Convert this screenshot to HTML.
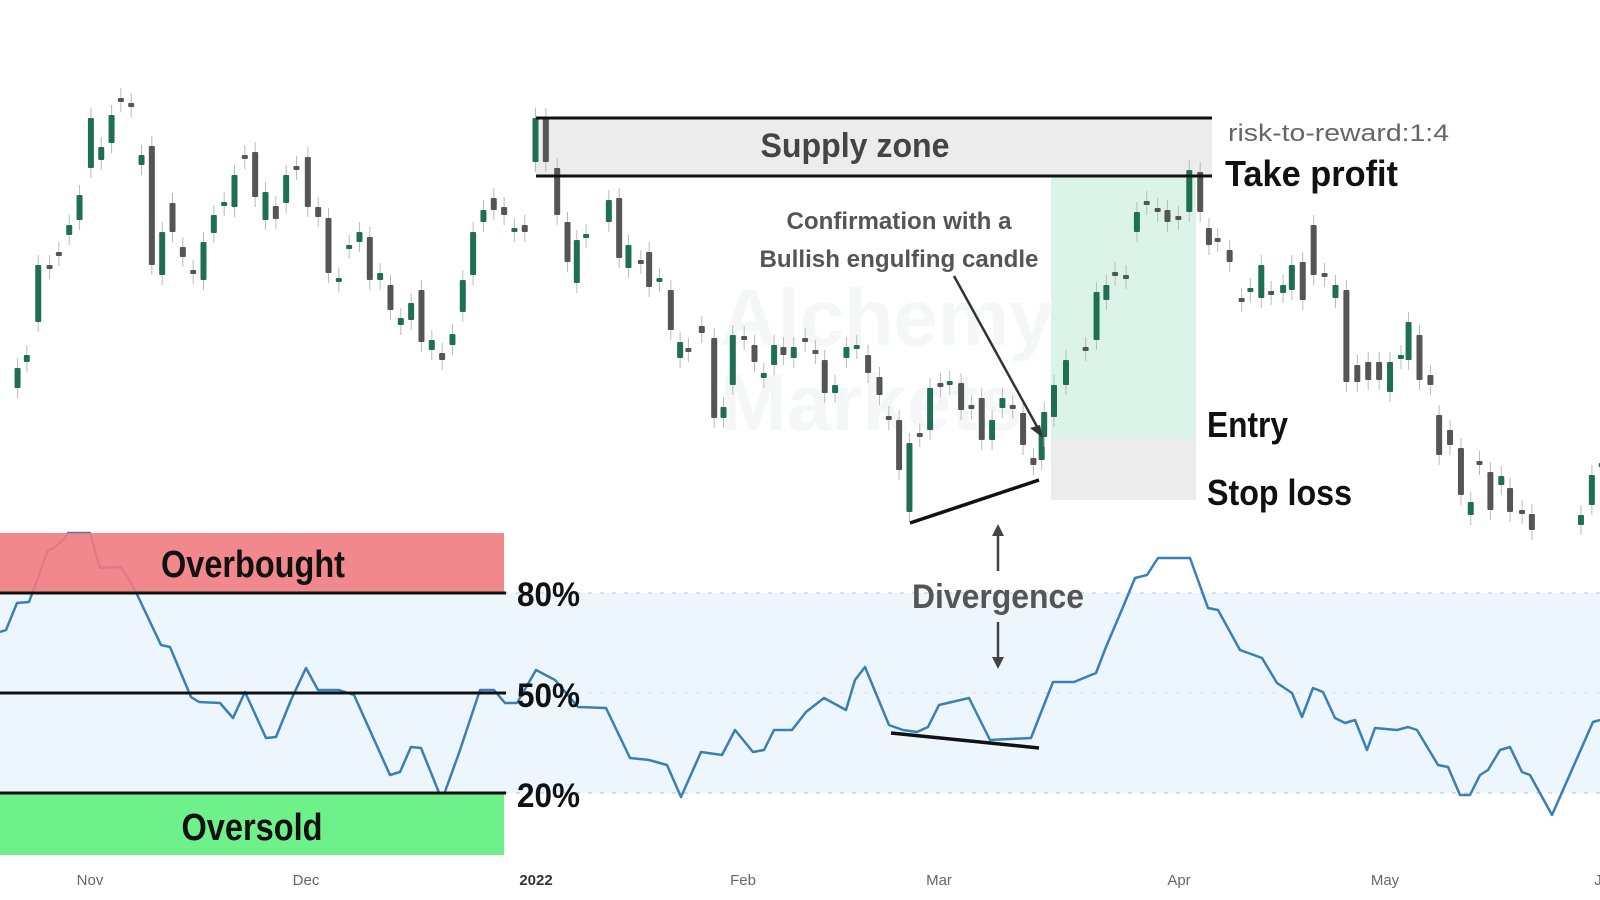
<!DOCTYPE html>
<html><head><meta charset="utf-8"><style>
html,body{margin:0;padding:0;background:#fff;width:1600px;height:900px;overflow:hidden}
svg{display:block}
text{font-family:"Liberation Sans",sans-serif}
</style></head><body>
<svg id="s" width="1600" height="900" viewBox="0 0 1600 900" xmlns="http://www.w3.org/2000/svg">
<rect width="1600" height="900" fill="#fff"/>
<rect x="0" y="593" width="1600" height="200" fill="#eef6fd"/>
<line x1="504" y1="593" x2="1600" y2="593" stroke="#cfd6dc" stroke-width="1.5" stroke-dasharray="4,8"/>
<line x1="504" y1="693" x2="1600" y2="693" stroke="#e0e6ea" stroke-width="1.5" stroke-dasharray="4,8"/>
<line x1="504" y1="793" x2="1600" y2="793" stroke="#cfd6dc" stroke-width="1.5" stroke-dasharray="4,8"/>
<rect x="536" y="118" width="676" height="58" fill="#ececec"/>
<rect x="1051" y="176" width="145" height="263" fill="#dcf3ea"/>
<rect x="1051" y="439" width="145" height="61" fill="#ececec"/>
<text x="720" y="345" font-size="80" fill="#f5f6f8" font-weight="bold">Alchemy</text>
<text x="720" y="430" font-size="80" fill="#f5f6f8" font-weight="bold">Markets</text>
<g id="candles"></g>
<line x1="536" y1="118" x2="1212" y2="118" stroke="#111" stroke-width="3"/>
<line x1="536" y1="176" x2="1212" y2="176" stroke="#111" stroke-width="3"/>
<text x="855" y="157" font-size="34" font-weight="bold" fill="#444" text-anchor="middle" textLength="189" lengthAdjust="spacingAndGlyphs">Supply zone</text>
<text x="1228" y="141" font-size="24" fill="#666" textLength="221" lengthAdjust="spacingAndGlyphs">risk-to-reward:1:4</text>
<text x="1225" y="186" font-size="36" font-weight="bold" fill="#111" textLength="173" lengthAdjust="spacingAndGlyphs">Take profit</text>
<text x="1207" y="437" font-size="36" font-weight="bold" fill="#111" textLength="81" lengthAdjust="spacingAndGlyphs">Entry</text>
<text x="1207" y="505" font-size="36" font-weight="bold" fill="#111" textLength="145" lengthAdjust="spacingAndGlyphs">Stop loss</text>
<text x="899" y="229" font-size="24" font-weight="bold" fill="#555" text-anchor="middle" textLength="225" lengthAdjust="spacingAndGlyphs">Confirmation with a</text>
<text x="899" y="267" font-size="24" font-weight="bold" fill="#555" text-anchor="middle" textLength="279" lengthAdjust="spacingAndGlyphs">Bullish engulfing candle</text>
<line x1="954" y1="276" x2="1040" y2="432" stroke="#333" stroke-width="2.5"/>
<path d="M1043 438 L1030 428 L1040 425 Z" fill="#333"/>
<line x1="910" y1="523" x2="1039" y2="480" stroke="#111" stroke-width="3.5"/>
<line x1="891" y1="733" x2="1039" y2="748" stroke="#111" stroke-width="3.5"/>
<line x1="998" y1="532" x2="998" y2="571" stroke="#444" stroke-width="2.5"/>
<path d="M998 524 L992 536 L1004 536 Z" fill="#444"/>
<line x1="998" y1="622" x2="998" y2="660" stroke="#444" stroke-width="2.5"/>
<path d="M998 669 L992 657 L1004 657 Z" fill="#444"/>
<text x="998" y="608" font-size="34" font-weight="bold" fill="#555" text-anchor="middle" textLength="172" lengthAdjust="spacingAndGlyphs">Divergence</text>
<polyline id="rsi" fill="none" stroke="#3a7fb5" stroke-width="2.5" stroke-linejoin="round"/>
<rect x="0" y="533" width="504" height="60" fill="#f07c80" fill-opacity="0.9"/>
<rect x="0" y="793" width="504" height="62" fill="#6ef08a"/>
<line x1="0" y1="593" x2="506" y2="593" stroke="#111" stroke-width="3"/>
<line x1="0" y1="693" x2="506" y2="693" stroke="#111" stroke-width="3"/>
<line x1="0" y1="793" x2="506" y2="793" stroke="#111" stroke-width="3"/>
<text x="253" y="577" font-size="38" font-weight="bold" fill="#111" text-anchor="middle" textLength="184" lengthAdjust="spacingAndGlyphs">Overbought</text>
<text x="252" y="840" font-size="38" font-weight="bold" fill="#111" text-anchor="middle" textLength="141" lengthAdjust="spacingAndGlyphs">Oversold</text>
<text x="517" y="606" font-size="34" font-weight="bold" fill="#111" textLength="63" lengthAdjust="spacingAndGlyphs">80%</text>
<text x="517" y="707" font-size="34" font-weight="bold" fill="#111" textLength="63" lengthAdjust="spacingAndGlyphs">50%</text>
<text x="517" y="807" font-size="34" font-weight="bold" fill="#111" textLength="63" lengthAdjust="spacingAndGlyphs">20%</text>
<g font-size="15" fill="#666" text-anchor="middle">
<text x="90" y="885">Nov</text><text x="306" y="885">Dec</text>
<text x="536" y="885" font-weight="bold" fill="#333">2022</text>
<text x="743" y="885">Feb</text><text x="939" y="885">Mar</text>
<text x="1179" y="885">Apr</text><text x="1385" y="885">May</text>
<text x="1598" y="885">J</text>
</g>
</svg>
<script>
var G=1,R=0;
var g1=[[17,368,388,G],[26,355,362,G],[37,265,322,G],[48,265,269,R],[57,252,256,R],[67,225,235,G],[77,195,220,G],[88,118,168,G],[98,147,160,G],[108,115,143,G],[117,98,102,R],[127,103,107,R],[137,155,165,G],[147,146,265,R],[157,232,275,G],[167,203,232,R],[177,247,257,R],[187,270,274,R],[197,242,280,G],[207,215,233,G],[217,202,206,G],[227,175,207,G],[237,155,159,R],[247,152,197,R],[257,192,220,G],[267,206,219,R],[277,175,203,G],[287,166,170,R],[298,157,207,R],[308,207,217,R],[318,218,273,R],[328,278,282,G],[338,245,249,G],[348,232,242,G],[358,237,280,R],[368,273,280,G],[378,285,310,R],[388,318,325,G],[398,303,320,G],[408,290,342,R],[418,340,350,G],[428,353,360,R],[438,334,345,G],[448,280,312,G],[458,232,275,G],[468,210,222,G],[478,198,210,R],[488,207,215,R],[498,228,232,G],[508,225,232,R]];
var g2=[[535,118,162,G],[545,118,162,R],[556,168,215,R],[566,222,262,R],[575,240,283,G],[584,234,238,G],[606,200,222,G],[616,198,258,R],[625,245,268,G],[637,260,264,R],[645,252,287,R],[655,278,282,G],[666,290,330,R],[675,342,358,G],[683,348,352,R],[696,326,333,R],[708,338,418,R],[717,407,418,G],[726,335,385,G],[737,336,340,R],[747,345,362,R],[756,373,378,G],[766,345,365,G],[775,347,355,R],[785,347,358,G],[796,338,342,R],[806,350,354,R],[815,360,393,R],[825,385,393,G],[836,347,358,G],[846,345,349,G],[857,355,373,R],[868,377,395,R],[877,416,420,R],[887,420,470,R],[897,443,512,G],[907,433,437,R],[917,388,430,G],[927,383,387,R],[936,381,385,G],[947,383,410,R],[957,405,409,R],[967,398,440,R],[977,420,440,G],[987,398,408,G],[997,405,409,R],[1007,413,445,R],[1017,458,465,R],[1025,432,460,G]];
var g3=[[1043,412,437,G],[1052,385,417,G],[1063,360,385,G],[1081,347,351,R],[1091,292,340,G],[1100,285,300,G],[1108,272,276,R],[1118,275,279,R],[1128,212,232,G],[1137,201,205,R],[1147,208,212,R],[1156,210,222,R],[1166,216,220,R],[1176,170,212,G],[1186,172,212,R],[1194,228,245,R],[1202,238,242,R],[1213,250,262,R],[1224,298,302,R],[1232,288,292,G],[1242,265,298,G],[1251,291,295,R],[1262,285,293,G],[1270,265,290,G],[1280,262,300,R],[1290,225,275,R],[1300,273,277,R],[1310,285,298,G],[1320,290,382,R],[1330,365,382,R],[1340,362,380,R],[1350,362,380,R],[1360,362,392,G],[1370,355,359,G],[1377,322,360,G],[1387,335,380,R],[1397,375,385,R],[1405,415,455,R],[1415,430,445,R],[1425,448,495,R],[1434,502,515,G],[1442,461,465,R],[1452,472,510,R],[1462,476,485,G],[1470,488,512,R],[1481,510,514,R],[1490,514,530,R],[1535,515,525,G],[1545,475,505,G],[1554,463,467,G]];
var cg=document.getElementById("candles"),h="";
function add(arr,ox,f){arr.forEach(function(c){var x=ox+(c[0]-ox)*f,col=c[3]?"#1f6f55":"#555";
h+='<line x1="'+x+'" y1="'+(c[1]-10)+'" x2="'+x+'" y2="'+(c[2]+10)+'" stroke="#bbb" stroke-width="1"/>';
h+='<rect x="'+(x-3)+'" y="'+c[1]+'" width="6" height="'+Math.max(4,c[2]-c[1])+'" rx="1" fill="'+col+'"/>';});}
add(g1,0,1.033);add(g2,520,1.033);add(g3,1030,1.091);
cg.innerHTML=h;
var p=[[0,632],[6,630],[17,603],[29,602],[36,583],[48,550],[54,548],[65,538],[68,533],[90,533],[100,568],[121,567],[134,588],[161,645],[170,647],[191,697],[199,702],[220,703],[233,718],[245,692],[266,738],[276,737],[291,700],[306,668],[318,690],[339,690],[354,695],[390,775],[400,772],[411,747],[421,748],[442,800],[459,753],[480,690],[494,690],[505,703],[517,703],[536,670],[555,680],[578,707],[606,708],[630,758],[649,760],[667,765],[681,797],[701,752],[722,755],[735,730],[753,752],[764,750],[774,730],[792,730],[806,712],[824,698],[846,710],[855,680],[865,667],[889,725],[903,730],[917,732],[928,727],[939,705],[969,698],[990,740],[1031,738],[1053,682],[1074,682],[1096,673],[1106,647],[1123,607],[1135,578],[1147,575],[1158,558],[1190,558],[1208,608],[1218,610],[1240,650],[1262,658],[1277,683],[1292,693],[1302,717],[1313,688],[1323,692],[1335,718],[1345,723],[1355,720],[1367,750],[1375,728],[1397,730],[1408,727],[1417,730],[1438,765],[1448,767],[1460,795],[1470,795],[1480,775],[1488,770],[1500,750],[1510,747],[1522,772],[1530,775],[1552,815],[1593,722],[1600,720]];
document.getElementById("rsi").setAttribute("points",p.map(function(a){return a.join(",")}).join(" "));
</script>
</body></html>
